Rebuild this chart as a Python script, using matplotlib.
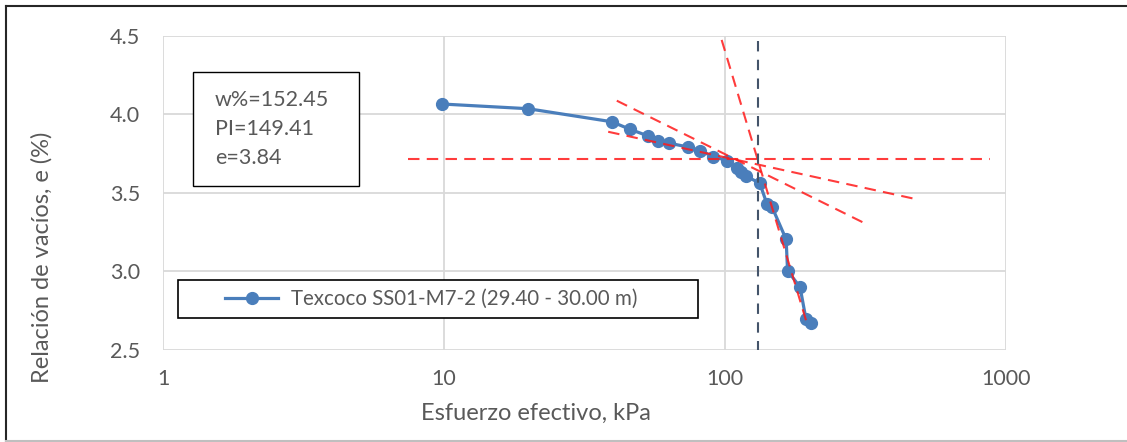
import numpy as np
import matplotlib
matplotlib.use('Agg')
import matplotlib.pyplot as plt
from matplotlib.patches import Rectangle
from matplotlib.lines import Line2D

plt.rcParams['font.family'] = ['Lato', 'DejaVu Sans']

# consolidation curve, Texcoco SS01-M7-2
stress = [9.8, 19.9, 39.5, 45.9, 53.3, 57.6, 63.4, 73.9, 81.8, 90.8, 101.6,
          110, 114, 118.8, 133, 141, 147, 165, 167, 185, 194, 203]
void_ratio = [4.067, 4.037, 3.954, 3.906, 3.863, 3.831, 3.817, 3.793, 3.769, 3.732, 3.707,
              3.659, 3.634, 3.608, 3.562, 3.43, 3.411, 3.205, 3.005, 2.90, 2.70, 2.672]

# Casagrande construction lines (x pairs, y pairs)
horiz_x, horiz_y = [7.45, 877], [3.718, 3.718]
tangent_x, tangent_y = [41.2, 323.6], [4.088, 3.296]
bisect_x, bisect_y = [38.4, 481], [3.890, 3.460]
virgin_x, virgin_y = [97.3, 197.4], [4.475, 2.647]
sigma_p = 131.4

props = ['w%=152.45', 'PI=149.41', 'e=3.84']
label = 'Texcoco SS01-M7-2 (29.40 - 30.00 m)'

blue = '#4a7ebb'
gray_txt = '#595959'
grid_c = '#d9d9d9'

fig = plt.figure(figsize=(11.27, 4.42), dpi=100)
ax = fig.add_axes([163/1127, 1-350/442, 843/1127, 314/442])

ax.set_xscale('log')
ax.set_xlim(1, 1000)
ax.set_ylim(2.5, 4.5)
ax.set_xticks([1, 10, 100, 1000])
ax.set_xticklabels(['1', '10', '100', '1000'])
ax.xaxis.set_minor_locator(matplotlib.ticker.NullLocator())
ax.set_yticks([2.5, 3.0, 3.5, 4.0, 4.5])
ax.set_yticklabels(['2.5', '3.0', '3.5', '4.0', '4.5'])
ax.grid(True, color=grid_c, linewidth=1.3)
ax.set_axisbelow(True)
for s in ax.spines.values():
    s.set_visible(False)
ax.tick_params(length=0, labelsize=15.5, colors=gray_txt, pad=14)
ax.tick_params(axis='y', pad=16.5)

ax.plot(stress, void_ratio, '-o', color=blue, lw=2.3, ms=8.5, zorder=3)

red_kw = dict(color='#ff1a1a', ls=(0, (5.5, 3.5)), lw=1.5, alpha=0.85, zorder=4)
ax.plot(horiz_x, horiz_y, **red_kw)
ax.plot(tangent_x, tangent_y, **red_kw)
ax.plot(bisect_x, bisect_y, **red_kw)
ax.plot(virgin_x, virgin_y, **red_kw)
ax.plot([sigma_p, sigma_p], [4.47, 2.5], color='#44546a', ls=(0, (5, 4)), lw=1.5, zorder=4)

# properties box
ax.add_patch(Rectangle((0.0356, 0.522), 0.197, 0.363, transform=ax.transAxes,
                       facecolor='white', edgecolor='black', lw=1, zorder=5))
for i, t in enumerate(props):
    ax.text(0.0617, 0.795 - i*0.091, t, transform=ax.transAxes, fontsize=15.5,
            color=gray_txt, va='center', ha='left', zorder=6)

# legend (frame drawn separately so the entry sits inset like the original)
ax.add_patch(Rectangle((0.0178, 0.102), 0.617, 0.121, transform=ax.transAxes,
                       facecolor='white', edgecolor='black', lw=1.2, zorder=5))
h = Line2D([], [], color=blue, lw=2.3, marker='o', ms=8.5)
leg = ax.legend([h], [label], loc='center left', bbox_to_anchor=(0.0735, 0.162),
                fontsize=14.8, frameon=False, handlelength=2.6, handletextpad=0.6,
                borderpad=0, borderaxespad=0, labelcolor=gray_txt)
leg.set_zorder(6)

fig.text(536/1127, 1-413/442, 'Esfuerzo efectivo, kPa', ha='center', va='center',
         fontsize=17, color=gray_txt)
fig.text(42/1127, 1-257/442, 'Relación de vacíos, e (%)', ha='center', va='center',
         rotation=90, fontsize=17, color=gray_txt)

# outer chart border (left/top dark, bottom light, open on the right)
fig.add_artist(Line2D([6/1127, 6/1127], [1-6/442, 1-441/442], color='#262626', lw=1.5))
fig.add_artist(Line2D([6/1127, 1.0], [1-6/442, 1-6/442], color='#262626', lw=1.5))
fig.add_artist(Line2D([6/1127, 1.0], [1-440.5/442, 1-440.5/442], color='#bfbfbf', lw=1.5))

fig.savefig('out.png', dpi=100)
